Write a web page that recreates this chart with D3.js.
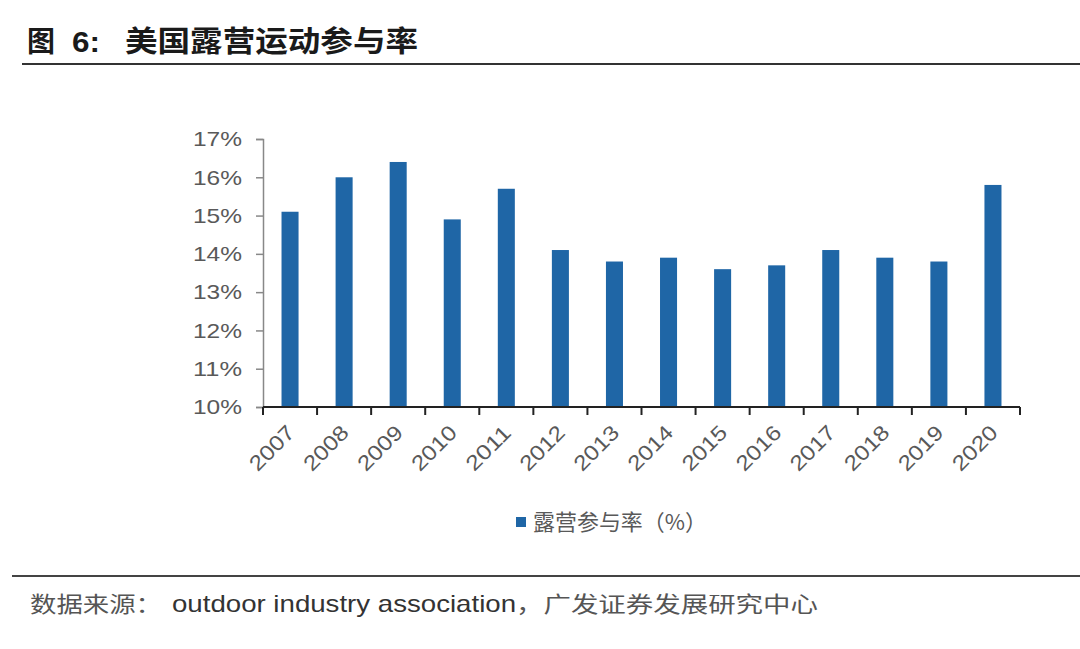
<!DOCTYPE html>
<html><head><meta charset="utf-8">
<script src="https://cdn.jsdelivr.net/npm/d3@7"></script>
<style>
html,body{margin:0;padding:0;background:#fff;}
svg{display:block;}
</style></head>
<body>
<svg id="c" width="1080" height="649"></svg>
<script>
const years = ["2007","2008","2009","2010","2011","2012","2013","2014","2015","2016","2017","2018","2019","2020"];
const rates = [15.1,16.0,16.4,14.9,15.7,14.1,13.8,13.9,13.6,13.7,14.1,13.9,13.8,15.8];
const yTicks = [10,11,12,13,14,15,16,17];
const titleParts = ["图", "6:", "美国露营运动参与率"];
const legendText = "露营参与率（%）";
const sourceParts = ["数据来源：", "outdoor industry association", "，广发证券发展研究中心"];

(function(){
const svg = d3.select("#c");
const pL = 263, pR = 1020, pT = 139, pB = 407;
const gray = "#595959", blue = "#1f66a6";
const cjk = "'Noto Sans CJK SC', sans-serif";
const lat = "'Liberation Sans', Arial, sans-serif";

// title
const tpos = [[27,28],[72,28],[125,293]];
titleParts.forEach((t,i)=>{
  svg.append("text").attr("x",tpos[i][0]).attr("y",52)
    .attr("font-family", i===1 ? lat : cjk).attr("font-weight",700)
    .attr("font-size",29).attr("fill","#1a1a1a")
    .attr("textLength",tpos[i][1]).attr("lengthAdjust","spacingAndGlyphs").text(t);
});
svg.append("line").attr("x1",22).attr("x2",1080).attr("y1",64).attr("y2",64)
  .attr("stroke","#333").attr("stroke-width",2);

const x = d3.scaleBand().domain(years).range([pL,pR]).paddingInner(0.685).paddingOuter(0.3425);
const y = d3.scaleLinear().domain([10,17]).range([pB,pT]);

// bars
svg.append("g").selectAll("rect").data(years).join("rect")
  .attr("x",d=>x(d)).attr("width",x.bandwidth())
  .attr("y",(d,i)=>y(rates[i])).attr("height",(d,i)=>y(10)-y(rates[i]))
  .attr("fill",blue);

// y axis
const ya = svg.append("g").attr("transform",`translate(${pL},0)`)
  .call(d3.axisLeft(y).tickValues(yTicks).tickFormat(d=>d+"%").tickSize(7).tickPadding(14));
ya.select(".domain").attr("stroke","#888").attr("stroke-width",1.5);
ya.selectAll(".tick line").attr("stroke","#888").attr("stroke-width",1.5);
ya.selectAll("text").attr("font-family",lat)
  .attr("font-size",21).attr("fill",gray)
  .attr("textLength",49).attr("lengthAdjust","spacingAndGlyphs");

// x axis
const step = x.step();
const bounds = d3.range(years.length+1).map(i=>pL+i*step);
const xg = svg.append("g");
xg.append("line").attr("x1",pL).attr("x2",pR).attr("y1",pB).attr("y2",pB)
  .attr("stroke","#222").attr("stroke-width",2);
xg.selectAll("line.t").data(bounds).join("line").attr("class","t")
  .attr("x1",d=>d).attr("x2",d=>d).attr("y1",pB).attr("y2",pB+8)
  .attr("stroke","#222").attr("stroke-width",2);
xg.selectAll("text").data(years).join("text")
  .attr("transform",d=>`translate(${x(d)+x.bandwidth()/2+6},${pB+27}) rotate(-45)`)
  .attr("text-anchor","end")
  .attr("font-family",lat)
  .attr("font-size",21).attr("fill",gray)
  .attr("textLength",54).attr("lengthAdjust","spacingAndGlyphs").text(d=>d);

// legend
svg.append("rect").attr("x",516).attr("y",517).attr("width",10).attr("height",10).attr("fill",blue);
svg.append("text").attr("x",533).attr("y",530)
  .attr("font-family",cjk).attr("font-size",22)
  .attr("fill",gray).attr("textLength",174).attr("lengthAdjust","spacingAndGlyphs").text(legendText);

// footer
svg.append("line").attr("x1",12).attr("x2",1080).attr("y1",576).attr("y2",576)
  .attr("stroke","#444").attr("stroke-width",2);
const spos = [[30,132,cjk,"#555"],[172,344,lat,"#333"],[516,302,cjk,"#555"]];
sourceParts.forEach((t,i)=>{
  svg.append("text").attr("x",spos[i][0]).attr("y",612)
    .attr("font-family",spos[i][2]).attr("font-size",i===1?24:22)
    .attr("fill",spos[i][3])
    .attr("textLength",spos[i][1]).attr("lengthAdjust","spacingAndGlyphs").text(t);
});
})();
</script>
</body></html>
